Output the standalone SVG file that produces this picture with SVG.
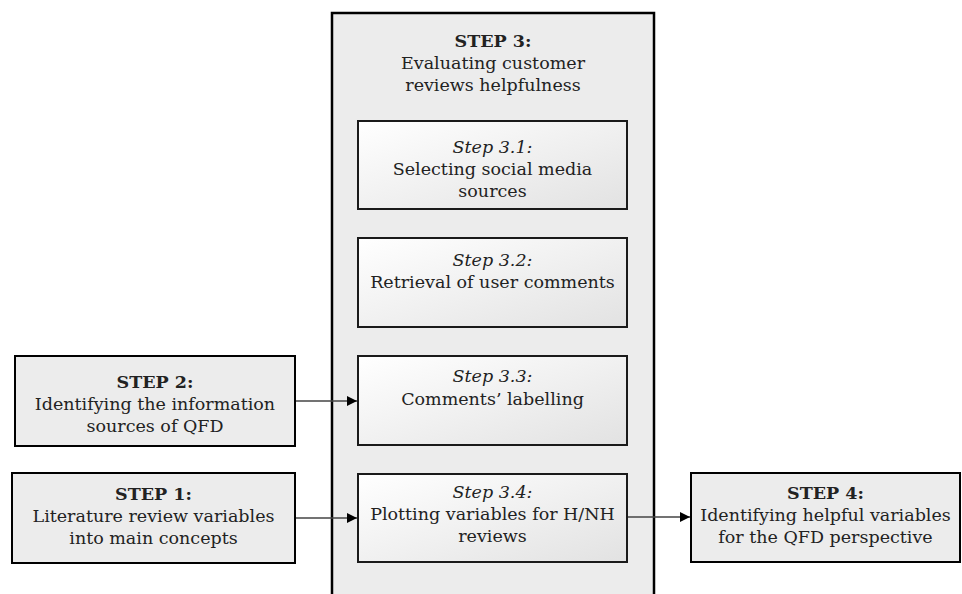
<svg xmlns="http://www.w3.org/2000/svg" width="962" height="594" viewBox="0 0 962 594">
  <defs>
    <linearGradient id="subFill" x1="0" y1="0" x2="1" y2="1">
      <stop offset="0" stop-color="#ffffff"/>
      <stop offset="1" stop-color="#e2e2e2"/>
    </linearGradient>
    <marker id="arrow" viewBox="0 0 10 10" refX="10" refY="5" markerWidth="10" markerHeight="10" markerUnits="userSpaceOnUse" orient="auto">
      <path d="M0,0 L10,5 L0,10 Z" fill="#000"/>
    </marker>
  </defs>
  <style>
    .outer { fill: #ececec; stroke: #000; stroke-width: 2; }
    .stage { fill: #ececec; stroke: #000; stroke-width: 2.5; }
    .sub { fill: url(#subFill); stroke: #1a1a1a; stroke-width: 2; }
    text { font-family: "DejaVu Serif", "Liberation Serif", serif; font-size: 17.5px; fill: #222; text-anchor: middle; }
    .b { font-weight: bold; }
    .i { font-style: italic; }
    .link { stroke: #444; stroke-width: 1.3; fill: none; marker-end: url(#arrow); }
  </style>

  <!-- Step 3 container, running off the bottom edge -->
  <g id="step3">
    <rect class="stage" x="332" y="13" width="322" height="600"/>
    <text class="b" x="493" y="47">STEP 3:</text>
    <text x="493" y="69">Evaluating customer</text>
    <text x="493" y="91">reviews helpfulness</text>
  </g>

  <g id="step3-1">
    <rect class="sub" x="358" y="121" width="269" height="88"/>
    <text class="i" x="492.5" y="153">Step 3.1:</text>
    <text x="492.5" y="175">Selecting social media</text>
    <text x="492.5" y="197">sources</text>
  </g>

  <g id="step3-2">
    <rect class="sub" x="358" y="238" width="269" height="89"/>
    <text class="i" x="492.5" y="266">Step 3.2:</text>
    <text x="492.5" y="288">Retrieval of user comments</text>
  </g>

  <g id="step3-3">
    <rect class="sub" x="358" y="356" width="269" height="89"/>
    <text class="i" x="492.5" y="382">Step 3.3:</text>
    <text x="492.5" y="405">Comments’ labelling</text>
  </g>

  <g id="step3-4">
    <rect class="sub" x="358" y="474" width="269" height="88"/>
    <text class="i" x="492.5" y="498">Step 3.4:</text>
    <text x="492.5" y="520">Plotting variables for H/NH</text>
    <text x="492.5" y="542">reviews</text>
  </g>

  <g id="step2">
    <rect class="outer" x="15" y="356" width="280" height="90"/>
    <text class="b" x="155" y="388">STEP 2:</text>
    <text x="155" y="410">Identifying the information</text>
    <text x="155" y="432">sources of QFD</text>
  </g>

  <g id="step1">
    <rect class="outer" x="12" y="473" width="283" height="90"/>
    <text class="b" x="153.5" y="500">STEP 1:</text>
    <text x="153.5" y="522">Literature review variables</text>
    <text x="153.5" y="544">into main concepts</text>
  </g>

  <g id="step4">
    <rect class="outer" x="691" y="473" width="269" height="89"/>
    <text class="b" x="825.5" y="499">STEP 4:</text>
    <text x="825.5" y="521">Identifying helpful variables</text>
    <text x="825.5" y="543">for the QFD perspective</text>
  </g>

  <g id="connectors">
    <line class="link" x1="296" y1="401" x2="357" y2="401"/>
    <line class="link" x1="296" y1="518" x2="357" y2="518"/>
    <line class="link" x1="628" y1="517" x2="690" y2="517"/>
  </g>
</svg>
